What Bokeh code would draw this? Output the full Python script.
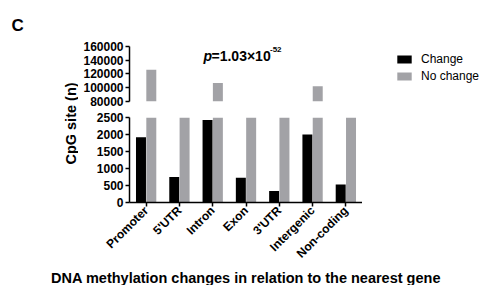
import numpy as np
from bokeh.plotting import figure
from bokeh.layouts import row, column
from bokeh.models import (ColumnDataSource, FactorRange, Range1d, FixedTicker,
                          NumeralTickFormatter, Label, Legend, LegendItem)
from bokeh.transform import dodge
from bokeh.embed import file_html
from bokeh.resources import INLINE

# ---- data ----
categories = ["Promoter", "5'UTR", "Intron", "Exon", "3'UTR", "Intergenic", "Non-coding"]
change = [1920, 750, 2430, 730, 340, 2000, 530]
no_change = [126000, 15000, 107000, 20000, 9000, 102000, 12000]
upper_ticks = [80000, 100000, 120000, 140000, 160000]
lower_ticks = [0, 500, 1000, 1500, 2000, 2500]
series_names = ["Change", "No change"]
x_title = "DNA methylation changes in relation to the nearest gene"
y_title = "CpG site (n)"

FONT = "Liberation Sans"
BLACK = "#000000"
GRAY = "#a2a2a6"

# bars of the upper segment only exist where the value reaches that segment
up_start = upper_ticks[0]
change_up = [v if v > up_start else np.nan for v in change]
nochange_up = [v if v > up_start else np.nan for v in no_change]

src = ColumnDataSource(dict(cat=categories, change=change, nochange=no_change,
                            change_up=change_up, nochange_up=nochange_up))
x_range = FactorRange(factors=categories)

BL = 51
W = 284
H_MAIN = 270


def style_y(p, ticks):
    ax = p.yaxis[0]
    ax.ticker = FixedTicker(ticks=ticks)
    ax.bounds = (ticks[0], ticks[-1])
    ax.formatter = NumeralTickFormatter(format="0")
    ax.axis_line_color = "black"
    ax.axis_line_width = 1.5
    ax.major_tick_line_color = "black"
    ax.major_tick_line_width = 1.5
    ax.major_tick_in = 0
    ax.major_tick_out = 4
    ax.minor_tick_line_color = None
    ax.major_label_text_font = FONT
    ax.major_label_text_font_style = "bold"
    ax.major_label_text_font_size = "12px"
    ax.major_label_text_color = "black"
    ax.major_label_standoff = 2


def clean(p):
    p.grid.visible = False
    p.outline_line_color = None
    p.background_fill_color = None
    p.border_fill_color = None


def base_fig(height, y_range, top, bottom, show_x):
    p = figure(width=W, height=height, x_range=x_range, y_range=y_range,
               output_backend="svg", toolbar_location=None,
               x_axis_location="below" if show_x else None,
               min_border_left=BL, min_border_right=0,
               min_border_top=top, min_border_bottom=bottom)
    clean(p)
    return p


def blank_fig(w, h, xr=None, yr=None):
    p = figure(width=w, height=h,
               x_range=xr if xr is not None else Range1d(0, w),
               y_range=yr if yr is not None else Range1d(0, h),
               output_backend="svg", toolbar_location=None,
               x_axis_location=None, y_axis_location=None,
               min_border=0, min_border_left=0, min_border_right=0,
               min_border_top=0, min_border_bottom=0)
    clean(p)
    return p


def bars(p, ccol, ncol, visible=True):
    r1 = p.vbar(x=dodge("cat", -0.155, range=x_range), top=ccol, bottom=0,
                width=0.3, source=src, fill_color=BLACK, line_color=None, visible=visible)
    r2 = p.vbar(x=dodge("cat", 0.155, range=x_range), top=ncol, bottom=0,
                width=0.3, source=src, fill_color=GRAY, line_color=None, visible=visible)
    return r1, r2


# ---- upper segment (frame extended upward to hold the p-value) ----
p_top = base_fig(109, Range1d(80000, 174545), 36, 8, False)
style_y(p_top, upper_ticks)
bars(p_top, "change_up", "nochange_up")

p_top.add_layout(Label(x=3.5, y=145455, x_offset=-42.5, text="p",
                       text_font=FONT, text_font_style="bold italic",
                       text_font_size="14px", text_color="black",
                       text_baseline="alphabetic"))
p_top.add_layout(Label(x=3.5, y=145455, x_offset=-34.5, text="=1.03×10",
                       text_font=FONT, text_font_style="bold",
                       text_font_size="14px", text_color="black",
                       text_baseline="alphabetic"))
p_top.add_layout(Label(x=3.5, y=155636, x_offset=24, text="-52",
                       text_font=FONT, text_font_style="bold",
                       text_font_size="8px", text_color="black",
                       text_baseline="alphabetic"))

# ---- lower segment ----
p_bot = base_fig(H_MAIN - 109, Range1d(lower_ticks[0], lower_ticks[-1]), 8, 68, True)
style_y(p_bot, lower_ticks)
bars(p_bot, "change", "nochange")
xa = p_bot.xaxis[0]
xa.axis_line_color = "black"
xa.axis_line_width = 1.5
xa.major_tick_line_color = "black"
xa.major_tick_line_width = 1.5
xa.major_tick_in = 0
xa.major_tick_out = 4
xa.major_label_orientation = np.pi / 4
xa.major_label_text_font = FONT
xa.major_label_text_font_style = "bold"
xa.major_label_text_font_size = "12px"
xa.major_label_text_color = "black"
xa.major_label_standoff = 2

# ---- left label column ----
p_lab = blank_fig(78, H_MAIN)
p_lab.add_layout(Label(x=11, y=H_MAIN - 25, text="C", text_font=FONT, text_font_style="bold",
                       text_font_size="17px", text_color="black", text_baseline="alphabetic"))
p_lab.add_layout(Label(x=70, y=H_MAIN - 123, text=y_title, angle=np.pi / 2,
                       text_font=FONT, text_font_style="bold", text_font_size="14.5px",
                       text_color="black", text_align="center", text_baseline="middle"))

# ---- right legend column ----
p_leg = blank_fig(122, H_MAIN, xr=x_range, yr=Range1d(0, 1))
l1, l2 = bars(p_leg, "change", "nochange", visible=False)
legend = Legend(items=[LegendItem(label=series_names[0], renderers=[l1]),
                       LegendItem(label=series_names[1], renderers=[l2])],
                location=(33, H_MAIN - 83), orientation="vertical",
                glyph_width=18, glyph_height=10, label_height=14,
                label_standoff=8, spacing=3, padding=0, margin=0,
                border_line_color=None, background_fill_alpha=0,
                inactive_fill_alpha=0,
                label_text_font=FONT, label_text_font_size="12px",
                label_text_color="black")
p_leg.add_layout(legend, "center")

# ---- bottom title strip ----
p_tit = blank_fig(484, 285 - H_MAIN)
p_tit.add_layout(Label(x=245.5, y=7.5, text=x_title, text_font=FONT, text_font_style="bold",
                       text_font_size="14.5px", text_color="black", text_align="center",
                       text_baseline="middle"))

layout = column(row(p_lab, column(p_top, p_bot), p_leg), p_tit)

with open("out.html", "w") as f:
    f.write(file_html(layout, INLINE))
